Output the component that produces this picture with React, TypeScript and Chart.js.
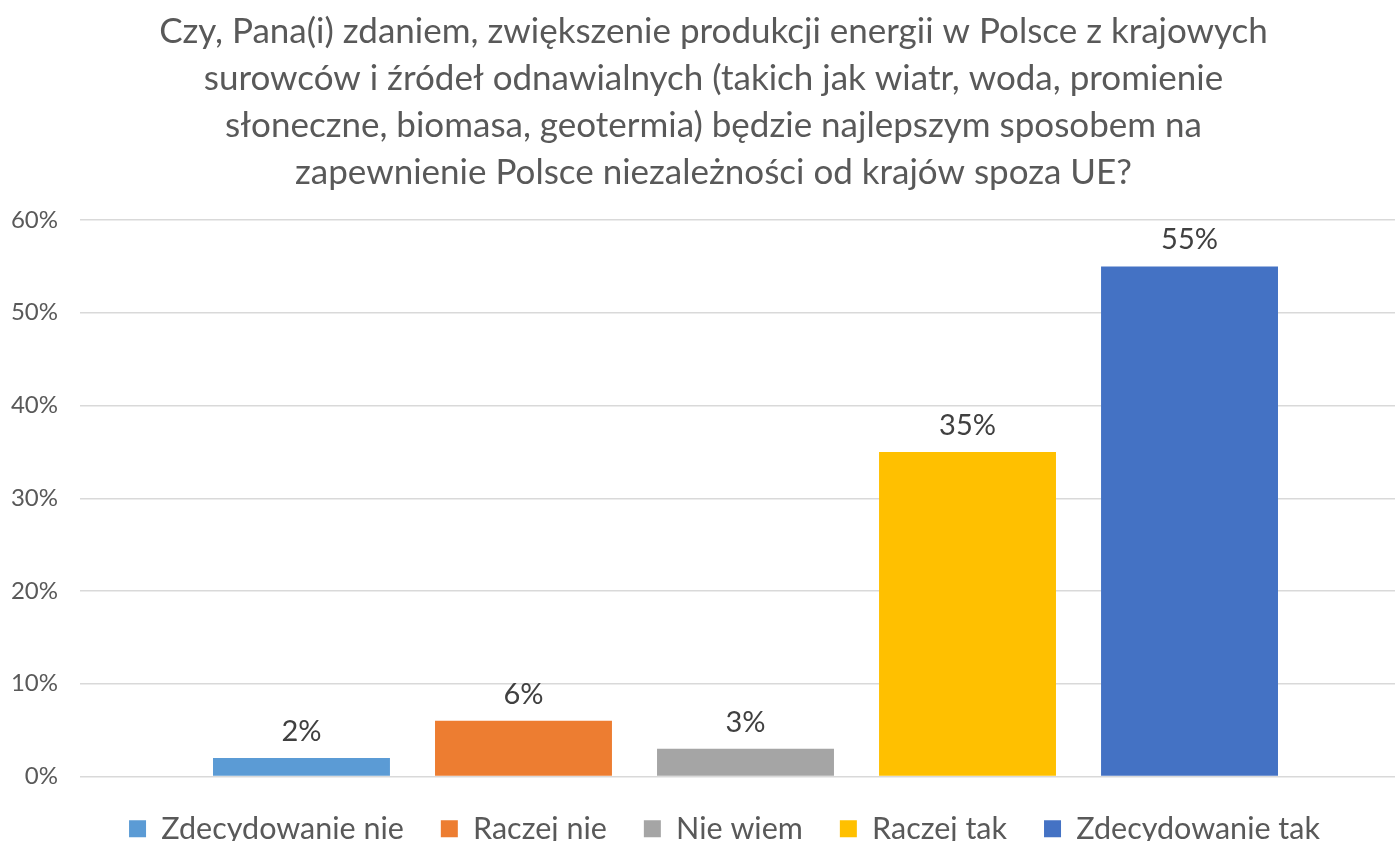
import React, { useEffect, useRef } from "react";
import { Chart, registerables } from "chart.js";

Chart.register(...registerables);

const titleLines = [
  "Czy, Pana(i) zdaniem, zwiększenie produkcji energii w Polsce z krajowych",
  "surowców i źródeł odnawialnych (takich jak wiatr, woda, promienie",
  "słoneczne, biomasa, geotermia) będzie najlepszym sposobem na",
  "zapewnienie Polsce niezależności od krajów spoza UE?",
];
const categories = [""];
const seriesNames = ["Zdecydowanie nie", "Raczej nie", "Nie wiem", "Raczej tak", "Zdecydowanie tak"];
const seriesValues = [2, 6, 3, 35, 55];
const seriesColors = ["#5B9BD5", "#ED7D31", "#A5A5A5", "#FFC000", "#4472C4"];
const yMin = 0;
const yMax = 60;
const yStep = 10;

const FONT = "Lato, 'Open Sans', sans-serif";

const dataLabelPlugin = {
  id: "dataLabels",
  afterDatasetsDraw(chart: any) {
    const ctx = chart.ctx;
    ctx.save();
    ctx.font = `29px ${FONT}`;
    ctx.fillStyle = "#404040";
    ctx.textAlign = "center";
    ctx.textBaseline = "alphabetic";
    chart.data.datasets.forEach((ds: any, i: number) => {
      const meta = chart.getDatasetMeta(i);
      meta.data.forEach((el: any, j: number) => {
        ctx.fillText(`${ds.data[j]}%`, el.x, el.y - 17);
      });
    });
    ctx.restore();
  },
};

// The reference plot area runs slightly past the right edge of the picture.
const extendPlotPlugin = {
  id: "extendPlot",
  afterLayout(chart: any) {
    const xs = chart.scales.x;
    xs.right = xs.right + 16;
    xs.width = xs.right - xs.left;
    xs.configure();
    const lg = chart.legend;
    if (lg) {
      lg.left += 11;
      lg.right += 11;
    }
  },
};

export default function App() {
  const ref = useRef<HTMLCanvasElement | null>(null);
  useEffect(() => {
    document.body.style.margin = "0";
    const chart = new Chart(ref.current!, {
      type: "bar",
      data: {
        labels: categories,
        datasets: seriesNames.map((name, i) => ({
          label: name,
          data: [seriesValues[i]],
          backgroundColor: seriesColors[i],
          borderWidth: 0,
          barPercentage: 0.797,
          categoryPercentage: 0.834,
        })),
      },
      options: {
        animation: false,
        responsive: false,
        maintainAspectRatio: false,
        layout: { padding: { left: 0, right: -32, top: 0, bottom: -13 } },
        plugins: {
          title: {
            display: true,
            text: titleLines,
            color: "#595959",
            font: { family: FONT, size: 35, weight: "normal", lineHeight: 47 / 35 },
            padding: { top: 8, bottom: 24 },
          },
          legend: {
            display: true,
            position: "bottom",
            labels: {
              color: "#595959",
              font: { family: FONT, size: 30.5 },
              boxWidth: 17,
              boxHeight: 17,
              padding: 37,
            },
          },
          tooltip: { enabled: false },
        },
        scales: {
          x: { display: false },
          y: {
            min: yMin,
            max: yMax,
            ticks: {
              stepSize: yStep,
              color: "#595959",
              font: { family: FONT, size: 24 },
              padding: 22,
              callback: (v: any) => `${v}%`,
            },
            grid: { color: "#d9d9d9", lineWidth: 1.5, drawTicks: false },
            border: { display: false },
            afterFit: (scale: any) => {
              scale.width = 80;
            },
          },
        },
      },
      plugins: [extendPlotPlugin, dataLabelPlugin],
    });
    return () => chart.destroy();
  }, []);
  return (
    <div style={{ width: 1395, height: 841, background: "#fff" }}>
      <canvas ref={ref} width={1395} height={841} style={{ display: "block" }} />
    </div>
  );
}
